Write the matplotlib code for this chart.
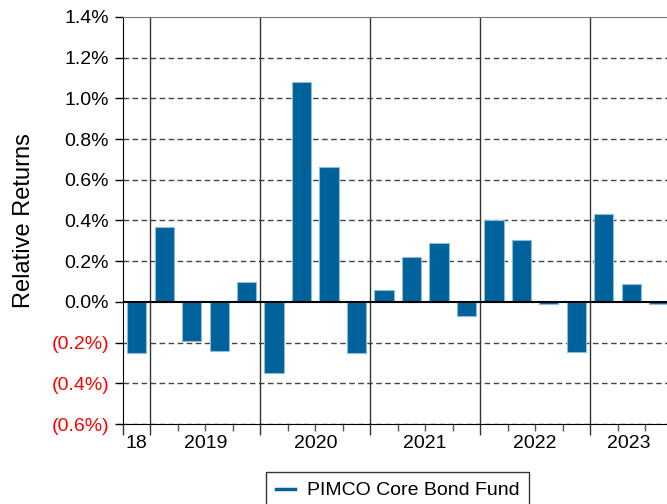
import matplotlib
matplotlib.use('Agg')
from matplotlib import pyplot as plt
from matplotlib.lines import Line2D
import numpy as np

plt.rcParams['font.family'] = ['Liberation Sans', 'DejaVu Sans']

# quarterly relative returns (%), Q4 2018 .. Q3 2023
returns = [-0.25,
           0.37, -0.19, -0.24, 0.10,
           -0.35, 1.08, 0.665, -0.25,
           0.06, 0.22, 0.29, -0.07,
           0.40, 0.305, -0.008, -0.245,
           0.43, 0.09, -0.008]
# year labels and number of quarters shown in each year
years = ['18', '2019', '2020', '2021', '2022', '2023']
quarters_in_year = [1, 4, 4, 4, 4, 2.8]
series_name = 'PIMCO Core Bond Fund'
yticks = [-0.6, -0.4, -0.2, 0.0, 0.2, 0.4, 0.6, 0.8, 1.0, 1.2, 1.4]

blue = '#00629b'

fig = plt.figure(figsize=(6.67, 5.04), dpi=100)
ax = fig.add_axes([0.1844, 0.1587, 0.8156, 0.8076])

x = np.arange(len(returns)) + 0.5
ax.bar(x, returns, width=0.7, color=blue, edgecolor='#8fbcd8', linewidth=0.8, zorder=3)

xmax = sum(quarters_in_year)
ax.set_xlim(0, xmax)
ax.set_ylim(-0.6, 1.4)

# horizontal dashed grid and zero line
for yv in yticks:
    if yv == 0.0:
        ax.axhline(0, color='black', linewidth=1.5, zorder=4)
    elif yv < 1.4:
        ax.axhline(yv, color='#444444', linewidth=1.0, linestyle=(0, (4, 2.5)), zorder=1)

# year boundaries
bounds = np.cumsum(quarters_in_year)[:-1]
for b in bounds:
    ax.axvline(b, color='#333333', linewidth=1.0, zorder=2)

# ticks
ax.set_yticks(yticks)
def fmt(v):
    if v < 0:
        return '(%.1f%%)' % abs(v)
    return '%.1f%%' % v
ax.set_yticklabels([fmt(v) for v in yticks], fontsize=14)
for lab, v in zip(ax.get_yticklabels(), yticks):
    lab.set_color('red' if v < 0 else 'black')

ax.set_xticks(np.arange(0, int(xmax) + 1), minor=True)
ax.set_xticks(np.concatenate([[0], bounds]))
ax.set_xticklabels([])
starts = np.concatenate([[0], bounds])
ends = np.concatenate([bounds, [xmax]])
for s, e, lab in zip(starts, ends, years):
    ax.text((s + e) / 2, -0.655, lab, ha='center', va='top', fontsize=14)

ax.tick_params(axis='x', which='major', length=8, width=1, color='#333333')
ax.tick_params(axis='x', which='minor', length=5, width=1, color='#555555')
ax.tick_params(axis='y', length=6, width=1, pad=4)

ax.spines['right'].set_visible(False)
ax.spines['top'].set_color('#777777')
ax.spines['left'].set_color('black')
ax.spines['bottom'].set_color('black')

ax.set_ylabel('Relative Returns', fontsize=17, labelpad=12)

handle = Line2D([0], [0], color=blue, linewidth=2.5)
leg = fig.legend([handle], [series_name], loc='upper center', bbox_to_anchor=(0.596, 0.0635),
                 borderaxespad=0, fontsize=14, frameon=True, fancybox=False, edgecolor='black',
                 handlelength=1.0, handletextpad=0.6, borderpad=0.5)
leg.get_frame().set_linewidth(1.0)

fig.savefig('out.png', dpi=100)
